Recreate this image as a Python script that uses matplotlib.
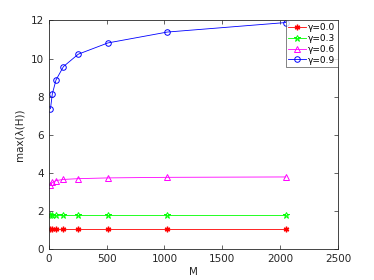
import matplotlib
matplotlib.use("Agg")
import matplotlib.pyplot as plt

fz = 7.5

M = [16, 32, 64, 128, 256, 512, 1024, 2048]
g00 = [1.04, 1.04, 1.04, 1.04, 1.04, 1.04, 1.04, 1.04]
g03 = [1.77, 1.77, 1.77, 1.77, 1.77, 1.77, 1.77, 1.77]
g06 = [3.38, 3.50, 3.60, 3.66, 3.70, 3.74, 3.77, 3.79]
g09 = [7.37, 8.15, 8.88, 9.58, 10.23, 10.82, 11.39, 11.89]
labels = ["γ=0.0", "γ=0.3", "γ=0.6", "γ=0.9"]

fig = plt.figure(figsize=(3.74, 2.8), dpi=100)
ax = fig.add_axes([0.13, 0.11, 0.774, 0.817])

lw = 0.6
ax.plot(M, g00, '-', color='#ff0000', label=labels[0], linewidth=lw, marker=(6, 2, 0), markersize=4)
ax.plot(M, g03, '-', color='#00ff00', label=labels[1], linewidth=lw, marker='*', markersize=5,
        markerfacecolor='none', markeredgewidth=0.7)
ax.plot(M, g06, '-^', color='#ff00ff', label=labels[2], linewidth=lw, markersize=4, markerfacecolor='none',
        markeredgewidth=0.7)
ax.plot(M, g09, '-o', color='#0000ff', label=labels[3], linewidth=lw, markersize=4, markerfacecolor='none',
        markeredgewidth=0.7)

ax.set_xlim(0, 2500)
ax.set_ylim(0, 12)
ax.set_xticks([0, 500, 1000, 1500, 2000, 2500])
ax.set_yticks([0, 2, 4, 6, 8, 10, 12])
ax.tick_params(direction='in', top=True, right=True, labelsize=fz, colors='#262626', length=3, width=0.5)
for s in ax.spines.values():
    s.set_linewidth(0.6)
    s.set_color('#262626')

ax.set_xlabel('M', fontsize=fz, color='#262626', labelpad=2)
ax.set_ylabel('max(λ(H))', fontsize=fz, color='#262626', labelpad=4)

leg = ax.legend(loc='upper right', fontsize=6.5, fancybox=False, edgecolor='#262626',
                borderaxespad=0, handlelength=2.0, borderpad=0.3, labelspacing=0.2, handletextpad=0.2)
leg.get_frame().set_linewidth(0.5)

plt.savefig("out.png", dpi=100)
plt.close()
